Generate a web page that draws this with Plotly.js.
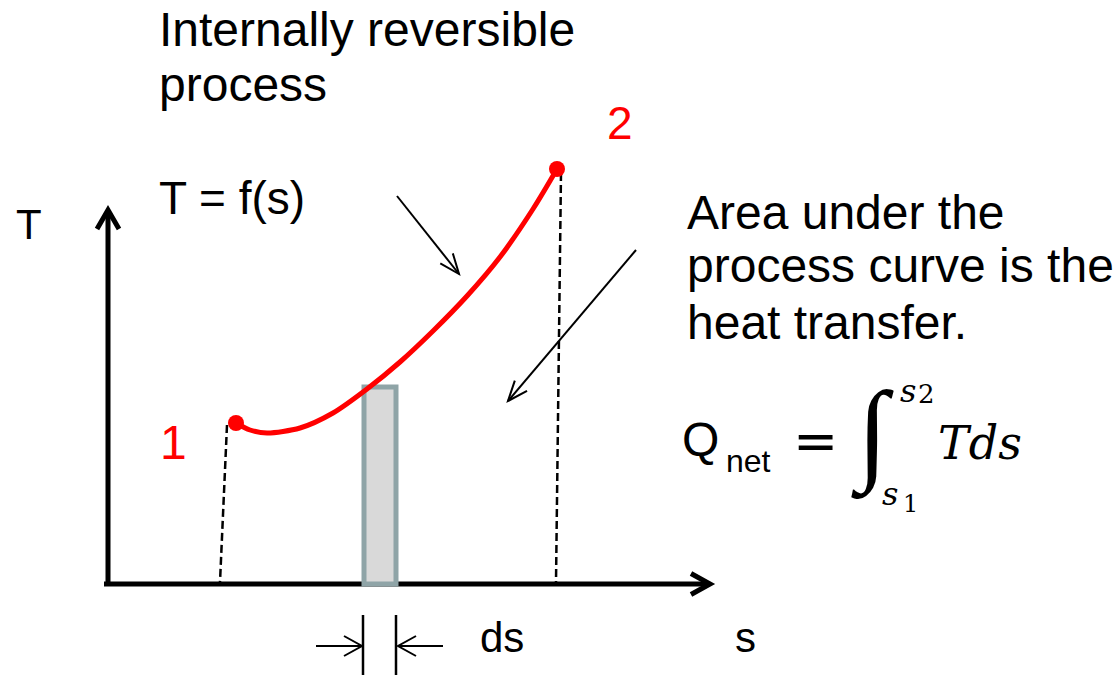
<!DOCTYPE html>
<html>
<head>
<meta charset="utf-8">
<script src="https://cdn.plot.ly/plotly-3.0.1.min.js"></script>
<style>html,body{margin:0;padding:0;background:#fff;}#chart{width:1120px;height:675px;}</style>
</head>
<body>
<div id="chart"></div>
<script>
// ---- data (s, T in diagram units, origin at the axes' corner) ----
const curveS = [128, 142, 159, 192, 225, 259, 292, 325, 359, 392, 425, 449];
const curveT = [161, 154, 151, 156, 171, 195, 222, 253, 288, 327, 375, 415];
const stateS = [128, 449];
const stateT = [161, 415];
const stateLabels = ['1', '2'];
const proj1S = [119, 112], proj1T = [159, 2];
const proj2S = [453, 448], proj2T = [411, 2];
const barS = [256, 288];
const barT = [0, 197];
const tAxisS = [0, 0], tAxisT = [0, 374];
const sAxisS = [-4, 602], sAxisT = [0, 0];
const arrowAS = [289, 351], arrowAT = [388, 310];
const arrowBS = [528, 400], arrowBT = [334, 183];
const dsS = [255, 288];
const dsTickT = [-31, -95];
const dsLeftS = [208, 254], dsRightS = [335, 290], dsArrowT = -62;

const SANS = 'Liberation Sans, Arial, sans-serif';
const RED = '#ff0000';

function chevron(x0, y0, x1, y1, len, half) {
  const dx = x1 - x0, dy = y1 - y0, L = Math.hypot(dx, dy);
  const ux = dx / L, uy = dy / L, bx = x1 - ux * len, by = y1 - uy * len;
  const px = -uy, py = ux;
  return `M ${bx + px * half},${by + py * half} L ${x1},${y1} L ${bx - px * half},${by - py * half}`;
}
function seg(xs, ys, color, width, dash, layer) {
  return {type: 'line', xref: 'x', yref: 'y', x0: xs[0], y0: ys[0], x1: xs[1], y1: ys[1],
          line: {color: color, width: width, dash: dash || 'solid'}, layer: layer || 'above'};
}
function head(xs, ys, len, half, color, width, layer) {
  return {type: 'path', xref: 'x', yref: 'y', path: chevron(xs[0], ys[0], xs[1], ys[1], len, half),
          line: {color: color, width: width}, layer: layer || 'above'};
}

const shapes = [
  seg(tAxisS, tAxisT, '#000', 5, null, 'below'),
  head(tAxisS, tAxisT, 19, 11, '#000', 5, 'below'),
  seg(sAxisS, sAxisT, '#000', 5, null, 'below'),
  head(sAxisS, sAxisT, 19, 10.5, '#000', 5, 'below'),
  seg(proj1S, proj1T, '#000', 2.5, '8px,4px', 'below'),
  seg(proj2S, proj2T, '#000', 2.5, '8px,4px', 'below'),
  {type: 'rect', xref: 'x', yref: 'y', x0: barS[0], x1: barS[1], y0: barT[0], y1: barT[1],
   fillcolor: '#d9d9d9', line: {color: '#8fa4a7', width: 5}, layer: 'below'},
  seg(arrowAS, arrowAT, '#000', 2),
  head(arrowAS, arrowAT, 20, 8, '#000', 2),
  seg(arrowBS, arrowBT, '#000', 2),
  head(arrowBS, arrowBT, 20, 8, '#000', 2),
  seg([dsS[0], dsS[0]], dsTickT, '#000', 2.5),
  seg([dsS[1], dsS[1]], dsTickT, '#000', 2.5),
  seg(dsLeftS, [dsArrowT, dsArrowT], '#000', 2),
  head(dsLeftS, [dsArrowT, dsArrowT], 18, 10, '#000', 2),
  seg(dsRightS, [dsArrowT, dsArrowT], '#000', 2),
  head(dsRightS, [dsArrowT, dsArrowT], 18, 10, '#000', 2)
];

function txt(text, x, y, size, opts) {
  opts = opts || {};
  return {text: text, x: x, y: y, xref: 'x', yref: 'y', showarrow: false,
          xanchor: opts.xanchor || 'left', yanchor: 'middle', borderpad: 0,
          font: {family: opts.family || SANS, size: size, color: opts.color || '#000',
                 style: opts.style || 'normal'}};
}

const annotations = [
  txt('Internally reversible', 50, 555, 48),
  txt('process', 50, 500, 48),
  txt('T = f(s)', 50, 386, 46),
  txt('T', -93, 359.3, 42),
  txt(stateLabels[0], 65, 141.3, 48, {xanchor: 'center', color: RED}),
  txt(stateLabels[1], 512, 460.6, 46, {xanchor: 'center', color: RED}),
  txt('Area under the', 578, 371.3, 48),
  txt('process curve is the', 578, 318.6, 48),
  txt('heat transfer.', 578, 261.6, 48),
  txt('ds', 371, -53.1, 42),
  txt('s', 626, -53.4, 42),
  txt('Q', 573, 144.6, 48),
  txt('net', 617, 123.4, 32),
  txt('=', 707.5, 144, 54, {xanchor: 'center', family: 'DejaVu Sans'}),
  txt('\u222B', 764, 150, 112, {xanchor: 'center', family: 'Liberation Serif', style: 'italic'}),
  txt('s', 791, 193.4, 32, {family: 'DejaVu Serif', style: 'italic'}),
  txt('2', 809, 190, 26, {family: 'DejaVu Serif'}),
  txt('s', 773, 90, 32, {family: 'DejaVu Serif', style: 'italic'}),
  txt('1', 802, 80.5, 24, {xanchor: 'center', family: 'DejaVu Serif'}),
  txt('Tds', 829, 141.4, 46, {family: 'DejaVu Serif', style: 'italic'})
];

const traces = [
  {x: curveS, y: curveT, type: 'scatter', mode: 'lines',
   line: {color: RED, width: 5, shape: 'spline', smoothing: 0.8}, hoverinfo: 'skip'},
  {x: stateS, y: stateT, type: 'scatter', mode: 'markers', marker: {color: RED, size: 16}, hoverinfo: 'skip'}
];

const layout = {
  width: 1120, height: 675,
  margin: {l: 0, r: 0, t: 0, b: 0, pad: 0},
  paper_bgcolor: '#fff', plot_bgcolor: '#fff',
  showlegend: false,
  xaxis: {range: [-108, 1012], visible: false, fixedrange: true},
  yaxis: {range: [-91, 584], visible: false, fixedrange: true},
  shapes: shapes,
  annotations: annotations
};

Plotly.newPlot('chart', traces, layout, {staticPlot: true, displayModeBar: false});
</script>
</body>
</html>
